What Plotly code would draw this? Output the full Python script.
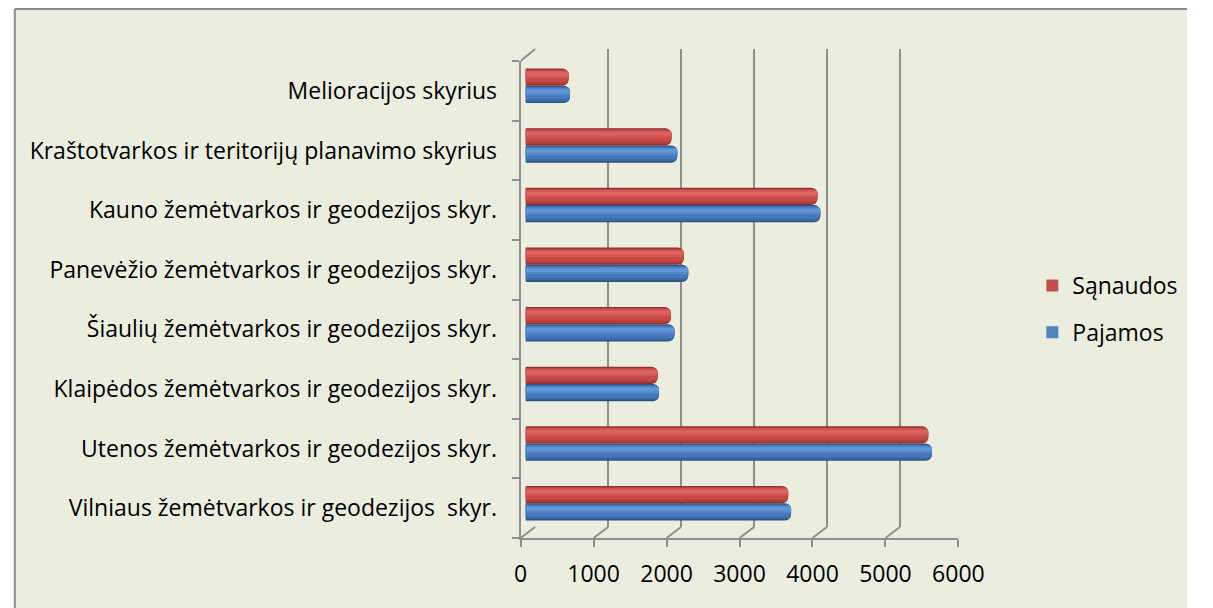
import plotly.graph_objects as go

W, H = 1213, 608

categories = [
    "Vilniaus žemėtvarkos ir geodezijos  skyr.",
    "Utenos žemėtvarkos ir geodezijos skyr.",
    "Klaipėdos žemėtvarkos ir geodezijos skyr.",
    "Šiaulių žemėtvarkos ir geodezijos skyr.",
    "Panevėžio žemėtvarkos ir geodezijos skyr.",
    "Kauno žemėtvarkos ir geodezijos skyr.",
    "Kraštotvarkos ir teritorijų planavimo skyrius",
    "Melioracijos skyrius",
]
pajamos = [3640, 5570, 1830, 2040, 2230, 4040, 2080, 610]
sanaudos = [3600, 5520, 1810, 1990, 2170, 4000, 2000, 590]
tick_values = [0, 1000, 2000, 3000, 4000, 5000, 6000]

FONT = "Open Sans"
FS = 23
GRID = "#8E8E8E"
BG = "#EBEEDF"


def fx(p):
    return p / W


def fy(p):
    return 1 - p / H


fig = go.Figure()
# invisible trace to create the back-wall subplot (gridlines)
fig.add_trace(go.Scatter(x=[None], y=[None], xaxis="x2", yaxis="y2",
                         showlegend=False, hoverinfo="skip", mode="markers"))

BW = 0.29  # bar thickness in category units
# bands: (start fraction from bottom, size fraction, colour index)
BANDS = [(0.0, 1.0, 0), (0.08, 0.86, 1), (0.22, 0.68, 2), (0.45, 0.40, 3), (0.58, 0.20, 4)]
series = [
    ("Pajamos", pajamos, -BW,
     ["#2B5283", "#3A6AA6", "#4679BC", "#5289CB", "#6196D6"], "#4F81BD", 2),
    ("Sąnaudos", sanaudos, 0.0,
     ["#8E302D", "#B23F3C", "#C64B47", "#D45753", "#DC6460"], "#C0504D", 1),
]
for name, vals, off, shades, legcol, rank in series:
    for start, size, ci in BANDS:
        fig.add_trace(go.Bar(
            y=categories, x=vals, orientation="h", name=name,
            offset=off + BW * start, width=BW * size, xaxis="x3", yaxis="y3",
            marker=dict(color=shades[ci], line=dict(width=0),
                        cornerradius=max(2, int(6 * size))),
            legendgroup=name, showlegend=False,
            hoverinfo="x+name" if ci == 0 else "skip",
        ))
    # legend entry
    fig.add_trace(go.Bar(
        y=[None], x=[None], orientation="h", name=name,
        xaxis="x3", yaxis="y3",
        marker=dict(color=legcol, line=dict(width=0)),
        legendgroup=name, legendrank=rank, showlegend=True, hoverinfo="skip",
    ))

shapes = [
    # chart area background (runs past the right and bottom edges)
    dict(type="rect", xref="paper", yref="paper",
         x0=fx(8), x1=1, y0=0, y1=fy(9),
         fillcolor=BG, line=dict(width=0), layer="below"),
    # top and left border
    dict(type="line", xref="paper", yref="paper",
         x0=fx(8), x1=1, y0=fy(9), y1=fy(9),
         line=dict(color="#888888", width=2), layer="below"),
    dict(type="line", xref="paper", yref="paper",
         x0=fx(8), x1=fx(8), y0=0, y1=fy(9),
         line=dict(color="#888888", width=2), layer="below"),
]
# floor diagonals from front ticks to back gridlines
for v in tick_values:
    shapes.append(dict(type="line", xref="x", yref="y domain",
                       xsizemode="pixel", xanchor=v, x0=0, x1=14.5,
                       ysizemode="pixel", yanchor=0, y0=0, y1=11,
                       line=dict(color=GRID, width=2), layer="above"))
# top-left wall diagonal
shapes.append(dict(type="line", xref="x", yref="y domain",
                   xsizemode="pixel", xanchor=0, x0=0, x1=14.5,
                   ysizemode="pixel", yanchor=1, y0=0, y1=12,
                   line=dict(color=GRID, width=2), layer="above"))

fig.update_layout(
    width=W, height=H,
    autosize=False,
    margin=dict(l=0, r=0, t=0, b=0),
    paper_bgcolor="white",
    plot_bgcolor="rgba(0,0,0,0)",
    barmode="overlay",
    font=dict(family=FONT, size=FS, color="#000000"),
    shapes=shapes,
    showlegend=True,
    legend=dict(x=fx(1054), y=fy(264), xanchor="left", yanchor="top",
                traceorder="grouped", tracegroupgap=14,
                bgcolor="rgba(0,0,0,0)", font=dict(size=FS, family=FONT)),
    # front axes (labels and ticks)
    xaxis=dict(domain=[fx(528), fx(978)], range=[0, 6000], anchor="y",
               showgrid=False, zeroline=False, showline=True,
               linecolor=GRID, linewidth=2, ticks="outside", ticklen=7,
               tickwidth=2, tickcolor=GRID, tickvals=tick_values,
               tickfont=dict(size=FS), ticklabelstandoff=7),
    yaxis=dict(domain=[fy(538), fy(61)], range=[-0.5, 7.5], anchor="x",
               type="category", categoryorder="array", categoryarray=categories,
               showgrid=False, zeroline=False, showline=True,
               linecolor=GRID, linewidth=2, ticks="outside", ticklen=7,
               tickwidth=2, tickcolor=GRID, tickson="boundaries",
               tickfont=dict(size=FS), ticklabelstandoff=17),
    # back wall (gridlines)
    xaxis2=dict(domain=[fx(542.5), fx(992.5)], range=[0, 6000], anchor="y2",
                showgrid=True, gridcolor=GRID, gridwidth=2, dtick=1000,
                zeroline=False, showline=False, showticklabels=False, ticks=""),
    yaxis2=dict(domain=[fy(527), fy(49)], range=[0, 1], anchor="x2",
                showgrid=False, zeroline=False, showline=False,
                showticklabels=False, ticks=""),
    # bars at mid depth
    xaxis3=dict(domain=[fx(533), fx(983)], range=[0, 6000], anchor="y3",
                showgrid=False, zeroline=False, showline=False,
                showticklabels=False, ticks=""),
    yaxis3=dict(domain=[fy(533), fy(56)], range=[-0.5, 7.5], anchor="x3",
                type="category", categoryorder="array", categoryarray=categories,
                showgrid=False, zeroline=False, showline=False,
                showticklabels=False, ticks=""),
)

fig.write_html(
    "out.html",
    config={"displayModeBar": False, "responsive": False},
    post_script=(
        "document.documentElement.style.overflow='hidden';"
        "document.body.style.margin='0';document.body.style.overflow='hidden';"
    ),
)
